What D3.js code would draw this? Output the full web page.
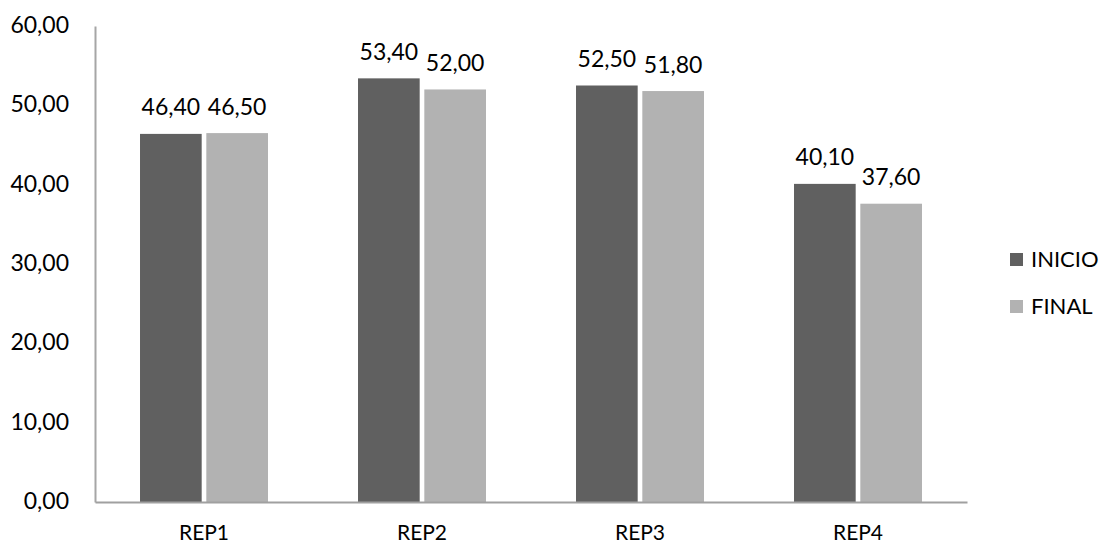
<!DOCTYPE html>
<html>
<head>
<meta charset="utf-8">
<script src="https://cdn.jsdelivr.net/npm/d3@7/dist/d3.min.js"></script>
<style>
  html, body { margin: 0; padding: 0; background: #ffffff; }
  svg { display: block; }
  text { font-family: Lato, "Open Sans", sans-serif; fill: #000; }
</style>
</head>
<body>
<svg id="chart" width="1107" height="547"></svg>
<script>
// Categories, series and values
const categories = ["REP1", "REP2", "REP3", "REP4"];
const seriesNames = ["INICIO", "FINAL"];
const inicio = [46.40, 53.40, 52.50, 40.10];
const final = [46.50, 52.00, 51.80, 37.60];
const yTicks = [0, 10, 20, 30, 40, 50, 60];
const seriesColors = ["#606060", "#b2b2b2"];

const values = [inicio, final];
const rows = categories.map((c, i) => ({
  category: c,
  items: seriesNames.map((s, j) => ({ series: s, value: values[j][i] }))
}));

const svg = d3.select("#chart");
const plot = { left: 95, right: 967, top: 26, bottom: 502 };
const fontSize = "23px";

const fmt = v => d3.format(".2f")(v).replace(".", ",");

const x0 = d3.scaleBand()
  .domain(categories)
  .range([plot.left, plot.right])
  .paddingInner(0.413)
  .paddingOuter(0.2065);

const x1 = d3.scaleBand()
  .domain(seriesNames)
  .range([0, x0.bandwidth()])
  .paddingInner(0.07);

const y = d3.scaleLinear().domain([0, 60]).range([plot.bottom, plot.top]);
const color = d3.scaleOrdinal().domain(seriesNames).range(seriesColors);

// Y axis: line plus labels, no tick marks
const yAxis = svg.append("g")
  .attr("transform", `translate(${plot.left},0)`)
  .call(d3.axisLeft(y).tickValues(yTicks).tickFormat(fmt).tickSize(0).tickPadding(26));
yAxis.select(".domain").attr("stroke", "#a6a6a6").attr("stroke-width", 2);
yAxis.selectAll("text")
  .style("font-family", "Lato, 'Open Sans', sans-serif")
  .style("font-size", fontSize)
  .attr("fill", "#000")
  .attr("dy", "0.28em");

// Bars
const groups = svg.append("g").selectAll("g")
  .data(rows)
  .join("g")
  .attr("transform", d => `translate(${x0(d.category)},0)`);

groups.selectAll("rect")
  .data(d => d.items)
  .join("rect")
  .attr("x", d => x1(d.series))
  .attr("y", d => y(d.value))
  .attr("width", x1.bandwidth())
  .attr("height", d => y(0) - y(d.value))
  .attr("fill", d => color(d.series));

// Value labels above bars
groups.selectAll("text.val")
  .data(d => d.items)
  .join("text")
  .attr("class", "val")
  .attr("x", d => x1(d.series) + x1.bandwidth() / 2)
  .attr("y", d => y(d.value) - 18.5)
  .attr("text-anchor", "middle")
  .style("font-size", fontSize)
  .text(d => fmt(d.value));

// X axis: baseline and category labels
const xAxis = svg.append("g")
  .attr("transform", `translate(0,${plot.bottom})`)
  .call(d3.axisBottom(x0).tickSize(0).tickPadding(23));
xAxis.select(".domain").attr("stroke", "#a0a0a0").attr("stroke-width", 2);
xAxis.selectAll("text")
  .style("font-family", "Lato, 'Open Sans', sans-serif")
  .style("font-size", "21px")
  .attr("fill", "#000")
  .attr("dy", "0.71em");

// Legend
const legend = svg.append("g").attr("transform", "translate(1010,253)");
const li = legend.selectAll("g")
  .data(seriesNames)
  .join("g")
  .attr("transform", (d, i) => `translate(0,${i * 47})`);
li.append("rect")
  .attr("width", 13)
  .attr("height", 13)
  .attr("fill", d => color(d));
li.append("text")
  .attr("x", 21)
  .attr("y", 14)
  .style("font-size", "22px")
  .text(d => d);
</script>
</body>
</html>
